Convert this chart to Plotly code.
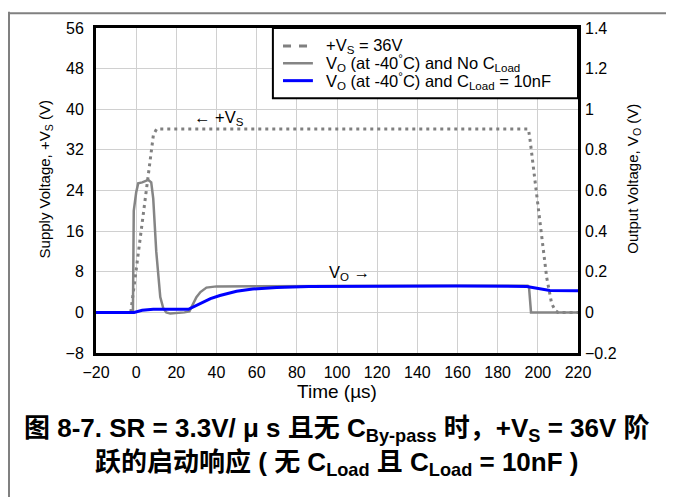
import plotly.graph_objects as go

# supply voltage +Vs (left axis, V)
vs_time = [-20, -2.7, 8.6, 10.2, 195.3, 196.0, 204.4, 206.9, 208.8, 210.0, 220]
vs_volt = [0, 0, 35.0, 36.1, 36.1, 34.4, 6.9, 1.7, 0.3, 0, 0]

# output voltage, no load capacitor (right axis, V)
vo_nc_time = [-20, -2.0, -1.6, -1.2, 0, 1, 3, 6, 7.5, 8.5, 10, 12, 13.5, 15, 17, 20, 24,
              26.5, 28, 30, 32, 35, 40, 60, 100, 150, 195, 195.6, 196.6, 220]
vo_nc_volt = [0, 0, 0.008, 0.5, 0.59, 0.635, 0.64, 0.652, 0.64, 0.56, 0.3, 0.075, 0.02, 0,
              -0.006, -0.005, 0, 0.005, 0.038, 0.075, 0.1, 0.122, 0.128, 0.129, 0.13, 0.131,
              0.131, 0.125, 0, 0]

# output voltage, CLoad = 10nF (right axis, V)
vo_10n_time = [-20, -1, 3, 8.5, 26, 30, 33.4, 37, 41.7, 46, 50, 58, 70, 86, 120, 160,
               194.5, 200, 206, 220]
vo_10n_volt = [0, 0, 0.01, 0.015, 0.015, 0.033, 0.05, 0.068, 0.083, 0.095, 0.104, 0.115,
               0.1225, 0.1275, 0.13, 0.13, 0.1275, 0.118, 0.108, 0.107]

x_ticks = list(range(-20, 221, 20))
left_ticks = list(range(-8, 57, 8))
right_ticks = [-0.2, 0, 0.2, 0.4, 0.6, 0.8, 1, 1.2, 1.4]

legend_names = [
    "+V<sub>S</sub> = 36V",
    "V<sub>O</sub> (at -40<sup>°</sup>C) and No C<sub>Load</sub>",
    "V<sub>O</sub> (at -40<sup>°</sup>C) and C<sub>Load</sub> = 10nF",
]
legend_styles = [
    dict(color="#808080", width=3, dash="8px,8px"),
    dict(color="#858585", width=2.5),
    dict(color="#0000ff", width=3),
]

font = "Arial, Liberation Sans, sans-serif"

fig = go.Figure()

fig.add_trace(go.Scatter(
    x=vs_time, y=vs_volt, mode="lines", name=legend_names[0],
    line=dict(color="#808080", width=3, dash="3px,4px"),
))
fig.add_trace(go.Scatter(
    x=vo_nc_time, y=vo_nc_volt, mode="lines", yaxis="y2", name=legend_names[1],
    line=dict(color="#858585", width=2.5),
))
fig.add_trace(go.Scatter(
    x=vo_10n_time, y=vo_10n_volt, mode="lines", yaxis="y2", name=legend_names[2],
    line=dict(color="#0000ff", width=3),
))

# page body has an 8px margin, so the figure is a bit smaller than the window
fig.update_layout(
    width=666, height=489,
    margin=dict(l=88, r=96, t=16, b=144),
    paper_bgcolor="white", plot_bgcolor="white",
    font=dict(family=font, size=16, color="black"),
    showlegend=False,
    xaxis=dict(
        range=[-20, 220], tickvals=x_ticks, showgrid=True, gridcolor="#d0d0d0",
        showline=True, linecolor="black", linewidth=3, mirror=True,
        zeroline=False, ticks="", ticklabelstandoff=3,
        title=dict(text="Time (µs)", standoff=4),
    ),
    yaxis=dict(
        range=[-8, 56], tickvals=left_ticks, showgrid=True, gridcolor="#d0d0d0",
        showline=True, linecolor="black", linewidth=3, mirror=True,
        zeroline=False, ticks="", ticklabelstandoff=6,
    ),
    yaxis2=dict(
        range=[-0.2, 1.4], tickvals=right_ticks, overlaying="y", side="right",
        showgrid=False, zeroline=False, ticks="", ticklabelstandoff=6,
    ),
)

# y axis titles sit a little above centre in the original
fig.add_annotation(xref="paper", yref="paper", x=-0.1058, y=0.534, textangle=-90,
                   xanchor="center", yanchor="middle",
                   text="Supply Voltage, +V<sub>S</sub> (V)", showarrow=False,
                   font=dict(size=15))
fig.add_annotation(xref="paper", yref="paper", x=1.116, y=0.536, textangle=-90,
                   xanchor="center", yanchor="middle",
                   text="Output Voltage, V<sub>O</sub> (V)", showarrow=False,
                   font=dict(size=15))

# legend drawn by hand to keep the tight row spacing of the original
fig.add_shape(type="rect", xref="paper", yref="paper", x0=0.367, x1=1.0, y0=0.784,
              y1=1.0, fillcolor="white", line=dict(color="black", width=2), layer="above")
for i, (name, style) in enumerate(zip(legend_names, legend_styles)):
    y = 0.945 - i * 0.0535
    fig.add_shape(type="line", xref="paper", yref="paper", x0=0.388, x1=0.450, y0=y,
                  y1=y, line=style, layer="above")
    fig.add_annotation(xref="paper", yref="paper", x=0.473, y=y, xanchor="left",
                       yanchor="middle", text=name, showarrow=False,
                       font=dict(size=16.5))

fig.add_annotation(x=41, y=38.2, text="← +V<sub>S</sub>", showarrow=False,
                   font=dict(size=16.5))
fig.add_annotation(x=106, y=7.8, text="V<sub>O</sub> →", showarrow=False,
                   font=dict(size=16.5))

fig.add_annotation(
    xref="paper", yref="paper", x=0.5, y=-0.287, yanchor="middle", showarrow=False,
    text="<b>图 8-7. SR = 3.3V/ μ s 且无 C<sub>By-pass</sub> 时，+V<sub>S</sub> = 36V 阶<br>"
         "跃的启动响应 ( 无 C<sub>Load</sub> 且 C<sub>Load</sub> = 10nF )</b>",
    font=dict(family="Arial, Noto Sans CJK SC", size=26),
)

# page frame lines
fig.add_shape(type="line", xref="paper", yref="paper", x0=-0.1805, x1=-0.1805, y0=1.05,
              y1=-0.5, line=dict(color="#808080", width=2))
fig.add_shape(type="line", xref="paper", yref="paper", x0=-0.1805, x1=1.2, y0=1.0456,
              y1=1.0456, line=dict(color="#808080", width=2))

fig.write_html("out.html")
